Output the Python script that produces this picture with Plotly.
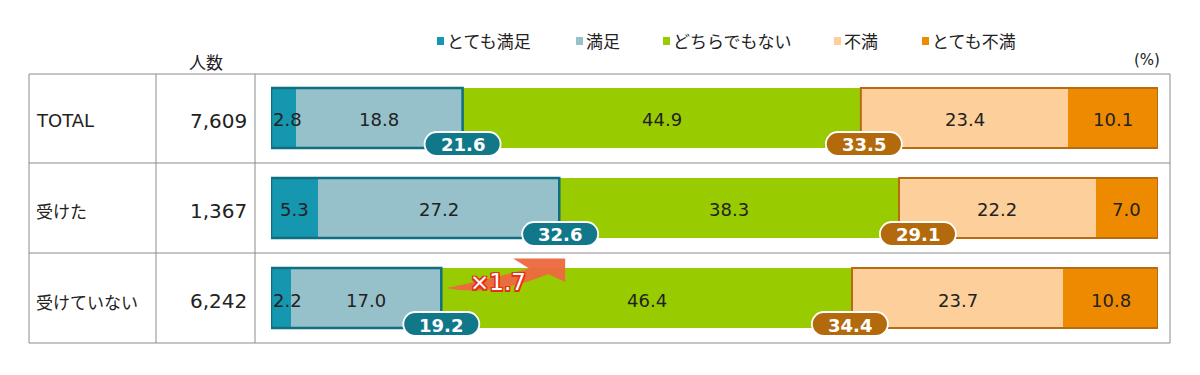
import plotly.graph_objects as go

# ---------------- data ----------------
rows = ["TOTAL", "受けた", "受けていない"]
counts = ["7,609", "1,367", "6,242"]
count_header = "人数"
unit_label = "(%)"
series_names = ["とても満足", "満足", "どちらでもない", "不満", "とても不満"]
very_sat = [2.8, 5.3, 2.2]
sat = [18.8, 27.2, 17.0]
neutral = [44.9, 38.3, 46.4]
dissat = [23.4, 22.2, 23.7]
very_dissat = [10.1, 7.0, 10.8]
sat_total = [21.6, 32.6, 19.2]
dissat_total = [33.5, 29.1, 34.4]
ratio_label = "×1.7"

# ---------------- style ----------------
colors = ["#1597b0", "#96c1ca", "#99cc00", "#fdd09b", "#ee8a00"]
sat_edge = "#0f6f80"
dis_edge = "#b86b10"
badge_sat = "#11788a"
badge_dis = "#b36a0c"
dis_badge_shift_px = [3, 18, -3]   # small horizontal nudges of the dissatisfied badges
grid = "#8c8c8c"
txt = "#222222"
FONT = "Noto Sans CJK JP"
NUMFONT = "DejaVu Sans, Noto Sans CJK JP"

OFF = 8                      # page body margin
W, H = 1184, 359
X0, X1 = 271, 1158          # bar axis 0..100 in page px
Y_TOP, Y_BOT = 73, 343      # plotting band in page px (rows -0.5 .. 2.5)
ppx = (X1 - X0) / 100.0
ppy = (Y_BOT - Y_TOP) / 3.0


def px(xv):
    return X0 + xv * ppx


def to_dx(pxv):
    return (pxv - X0) / ppx


def to_dy(pyv):
    return (pyv - Y_TOP) / ppy - 0.5


def py(yv):
    return Y_TOP + (yv + 0.5) * ppy


def pxp(x):
    return (x - OFF) / W


def pyp(y):
    return 1 - (y - OFF) / H


series = [very_sat, sat, neutral, dissat, very_dissat]
yidx = list(range(len(rows)))
BW = 0.667

fig = go.Figure()
for name, vals, col in zip(series_names, series, colors):
    fig.add_trace(go.Bar(
        y=yidx, x=vals, name=name, orientation="h", width=BW,
        marker=dict(color=col, line=dict(width=0)),
        hoverinfo="x+name", showlegend=False,
    ))

shapes = []
annotations = []

# table frame
shapes.append(dict(type="rect", xref="paper", yref="paper",
                   x0=pxp(29), x1=pxp(1170), y0=pyp(343), y1=pyp(74),
                   line=dict(color=grid, width=1), layer="below"))
for xv in (156, 255):
    shapes.append(dict(type="line", xref="paper", yref="paper",
                       x0=pxp(xv), x1=pxp(xv), y0=pyp(343), y1=pyp(74),
                       line=dict(color=grid, width=1), layer="below"))
for k in range(len(rows) - 1):
    shapes.append(dict(type="line", xref="paper", yref="y",
                       x0=pxp(29), x1=pxp(1170), y0=k + 0.5, y1=k + 0.5,
                       line=dict(color=grid, width=1), layer="below"))

# group outlines
for i in yidx:
    shapes.append(dict(type="rect", xref="x", yref="y", x0=0, x1=very_sat[i] + sat[i],
                       y0=i - BW / 2, y1=i + BW / 2, line=dict(color=sat_edge, width=2.5)))
    shapes.append(dict(type="rect", xref="x", yref="y", x0=100 - dissat[i] - very_dissat[i], x1=100,
                       y0=i - BW / 2, y1=i + BW / 2, line=dict(color=dis_edge, width=2)))


def P(a, c):
    return f"{to_dx(a):.4f},{to_dy(c):.4f}"


def pill(cx_px, cy_px, w=76, h=24):
    r = h / 2.0
    k = 0.5523 * r
    l, rr = cx_px - w / 2, cx_px + w / 2
    t, b = cy_px - h / 2, cy_px + h / 2
    return (f"M {P(l + r, t)} L {P(rr - r, t)} "
            f"C {P(rr - r + k, t)} {P(rr, cy_px - k)} {P(rr, cy_px)} "
            f"C {P(rr, cy_px + k)} {P(rr - r + k, b)} {P(rr - r, b)} "
            f"L {P(l + r, b)} "
            f"C {P(l + r - k, b)} {P(l, cy_px + k)} {P(l, cy_px)} "
            f"C {P(l, cy_px - k)} {P(l + r - k, t)} {P(l + r, t)} Z")


# badges
for i in yidx:
    cy = py(i) + 26
    for val, cxv, col, shift in ((sat_total[i], sat_total[i], badge_sat, 0),
                                 (dissat_total[i], 100 - dissat_total[i], badge_dis, dis_badge_shift_px[i])):
        cxp = px(cxv) + shift
        shapes.append(dict(type="path", xref="x", yref="y", path=pill(cxp, cy),
                           fillcolor=col, line=dict(color="white", width=1.8)))
        annotations.append(dict(x=to_dx(cxp), y=to_dy(cy + 1), xref="x", yref="y", text=f"{val:.1f}",
                                xanchor="center", yanchor="middle", showarrow=False,
                                font=dict(family=NUMFONT, size=18, color="white", weight="bold")))

# arrow between rows (from 19.2 boundary to 32.6 boundary)
xa = px(sat_total[2]) + 5
xb = px(sat_total[1]) + 5
yt = py(2) - 10
yh = py(1.5) + 5.5

arrow = (f"M {P(xa, yt)} Q {P(xa + 47, yt + 9)} {P(xb - 17, yt - 14)} "
         f"L {P(xb, yt - 6)} L {P(xb, yh)} L {P(xb - 52, yh)} L {P(xb - 36, yh + 10)} "
         f"Q {P(xa + 37, yh + 22)} {P(xa, yt)} Z")
shapes.append(dict(type="path", xref="x", yref="y", path=arrow,
                   fillcolor="#ec6a3e", line=dict(width=0), opacity=0.96))
sh = "#e4321a"
annotations.append(dict(x=to_dx(xa + 52), y=to_dy(yt - 6), xref="x", yref="y", text=ratio_label,
                        xanchor="center", yanchor="middle", showarrow=False,
                        font=dict(family=NUMFONT, size=23, color="white",
                                  shadow=(f"-1.5px -1.5px 0 {sh}, 1.5px -1.5px 0 {sh}, -1.5px 1.5px 0 {sh}, "
                                          f"1.5px 1.5px 0 {sh}, 0 -1.5px 0 {sh}, 0 1.5px 0 {sh}, "
                                          f"-1.5px 0 0 {sh}, 1.5px 0 0 {sh}"))))

# segment labels
for i in yidx:
    start = 0.0
    for vals in series:
        v = vals[i]
        if v < 4:
            annotations.append(dict(x=start, y=i, xref="x", yref="y", text=f"{v:.1f}", xanchor="left",
                                    yanchor="middle", yshift=-2, showarrow=False,
                                    font=dict(family=NUMFONT, size=18, color=txt)))
        else:
            annotations.append(dict(x=start + v / 2, y=i, xref="x", yref="y", text=f"{v:.1f}",
                                    xanchor="center", yanchor="middle", yshift=-2, showarrow=False,
                                    font=dict(family=NUMFONT, size=18, color=txt)))
        start += v

# table text
for i in yidx:
    annotations.append(dict(x=pxp(34), y=i, xref="paper", yref="y", text=rows[i], xanchor="left",
                            yanchor="middle", yshift=-3, showarrow=False,
                            font=dict(family=NUMFONT if i == 0 else FONT, size=18 if i == 0 else 17, color=txt)))
    annotations.append(dict(x=pxp(249), y=i, xref="paper", yref="y", text=counts[i], xanchor="right",
                            yanchor="middle", yshift=-3, showarrow=False,
                            font=dict(family=NUMFONT, size=20, color=txt)))
annotations.append(dict(x=pxp(206), y=pyp(62), xref="paper", yref="paper", text=count_header,
                        xanchor="center", yanchor="middle", showarrow=False,
                        font=dict(family=FONT, size=17, color=txt)))
annotations.append(dict(x=pxp(1162), y=pyp(60), xref="paper", yref="paper", text=unit_label,
                        xanchor="right", yanchor="middle", showarrow=False,
                        font=dict(family=NUMFONT, size=15, color=txt)))

# legend
leg_sq_x = [437, 576, 663, 834, 922]
for name, col, lx in zip(series_names, colors, leg_sq_x):
    shapes.append(dict(type="rect", xref="paper", yref="paper",
                       x0=pxp(lx), x1=pxp(lx + 7), y0=pyp(45), y1=pyp(37),
                       fillcolor=col, line=dict(width=0)))
    annotations.append(dict(x=pxp(lx + 8), y=pyp(41), xref="paper", yref="paper", text=name,
                            xanchor="left", yanchor="middle", showarrow=False,
                            font=dict(family=FONT, size=17, color=txt)))

fig.update_layout(
    width=W, height=H, barmode="stack", bargap=0,
    margin=dict(l=0, r=0, t=0, b=0),
    paper_bgcolor="white", plot_bgcolor="white",
    xaxis=dict(domain=[pxp(X0), pxp(X1)], range=[0, 100], visible=False, fixedrange=True),
    yaxis=dict(domain=[pyp(Y_BOT), pyp(Y_TOP)], range=[2.5, -0.5], visible=False,
               type="linear", fixedrange=True),
    shapes=shapes, annotations=annotations, showlegend=False,
    font=dict(family=FONT, color=txt),
)

fig.write_html("out.html", config={"displayModeBar": False})
